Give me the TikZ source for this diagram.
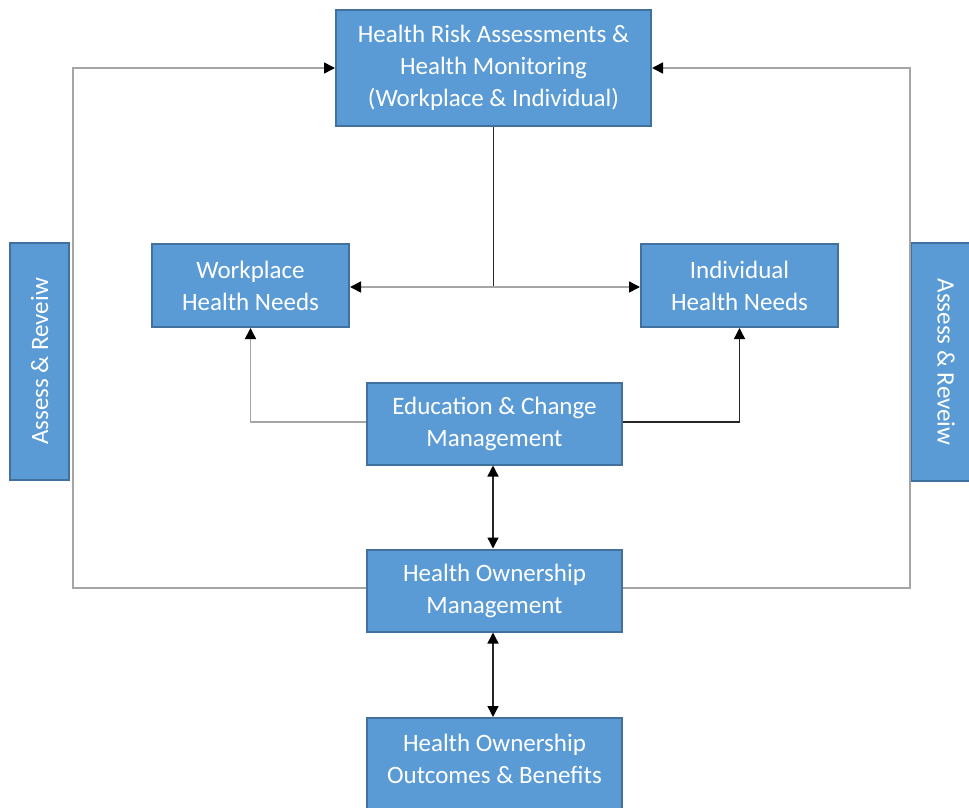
\documentclass[tikz,border=0pt]{standalone}
\usepackage{fontspec}
\setmainfont{Carlito}
\usetikzlibrary{arrows.meta,calc}
\definecolor{boxfill}{HTML}{5B9BD5}
\definecolor{boxline}{HTML}{41719C}
\definecolor{linkgray}{HTML}{A5A5A5}
\definecolor{linkdark}{HTML}{262626}
\begin{document}
\begin{tikzpicture}[x=1pt,y=-1pt,
  blockbox/.style={draw=boxline,fill=boxfill,line width=2pt,text=white,
    align=center,inner sep=0pt,
    font=\fontsize{25}{32}\selectfont},
  sidebox/.style={blockbox},
  tip/.style={-{Triangle[length=11pt,width=11pt,color=black]}},
  tips/.style={{Triangle[length=11pt,width=11pt,color=black]}-{Triangle[length=11pt,width=11pt,color=black]}},
  graylink/.style={draw=linkgray,line width=1.6pt},
  darklink/.style={draw=linkdark,line width=1.4pt}]
\useasboundingbox (0,0) rectangle (969,808);

% main blocks
\node[blockbox,minimum width=315pt,minimum height=116pt] (hra) at (493.5,68)
  {Health Risk Assessments \&\\Health Monitoring\\(Workplace \& Individual)};
\node[blockbox,minimum width=197pt,minimum height=83pt] (wpn) at (250.5,285.5)
  {Workplace\\Health Needs};
\node[blockbox,minimum width=197pt,minimum height=83pt] (ind) at (739.5,285.5)
  {Individual\\Health Needs};
\node[blockbox,minimum width=255pt,minimum height=82pt] (edu) at (494.5,423.5)
  {Education \& Change\\Management};
\node[blockbox,minimum width=255pt,minimum height=82pt] (hom) at (494.5,590.5)
  {Health Ownership\\Management};
\node[blockbox,minimum width=255pt,minimum height=100pt,anchor=north] (hob) at (494.5,717)
  {\raisebox{0pt}[\height][\dimexpr\depth+14pt\relax]{\begin{tabular}{@{}c@{}}Health Ownership\\Outcomes \& Benefits\end{tabular}}};

% review bars at the sides
\node[sidebox,minimum width=59pt,minimum height=237pt] (revl) at (39.5,361.5)
  {\rotatebox{90}{Assess \& Reveiw}};
\node[sidebox,minimum width=70pt,minimum height=238pt,anchor=west] (revr) at (910,362)
  {\rotatebox{-90}{Assess \& Reveiw}};

% split from the assessments to the two need blocks
\coordinate (split) at (hra.south |- 0,287);
\draw[darklink] (hra.south) -- (split);
\draw[graylink,tips] (wpn.east |- split) -- (ind.west |- split);

% education feeds both need blocks
\draw[graylink,tip] (edu.west |- 0,422) -| (wpn.south);
\draw[darklink,tip] (edu.east |- 0,422) -| (ind.south);

% vertical chain
\draw[darklink,tips] (edu.south -| 493,0) -- (hom.north -| 493,0);
\draw[darklink,tips] (hom.south -| 493,0) -- (hob.north -| 493,0);

% review loops back to the assessments
\coordinate (loopl) at (73,588);
\coordinate (loopr) at (910,588);
\draw[graylink,tip] (hom.west |- loopl) -- (loopl) |- (hra.west);
\draw[graylink,tip] (hom.east |- loopr) -- (loopr) |- (hra.east);
\end{tikzpicture}
\end{document}
